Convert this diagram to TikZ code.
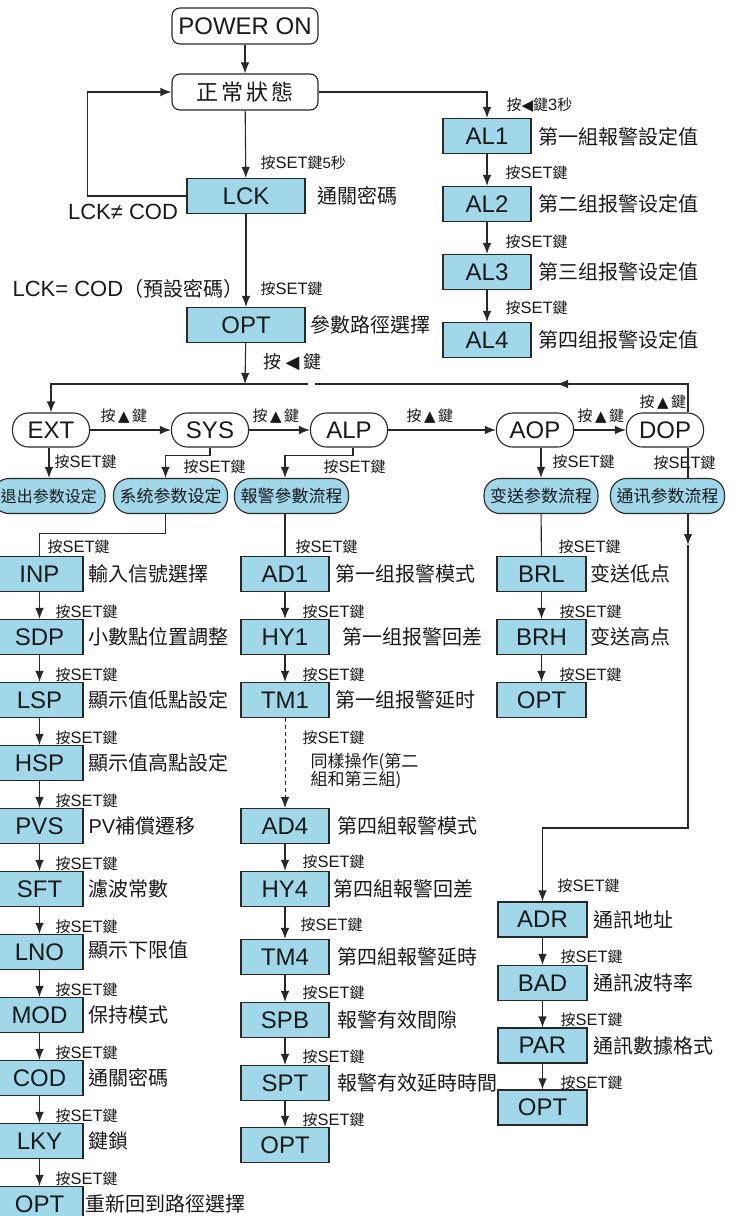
\documentclass[tikz,border=0pt]{standalone}
\usepackage{fontspec}
\setmainfont{Liberation Sans}
\newfontfamily\cjk{Noto Sans CJK TC}
\newfontfamily\sym{DejaVu Sans}
\usetikzlibrary{arrows.meta}
\definecolor{boxb}{RGB}{160,216,234}
\definecolor{linec}{RGB}{40,40,40}
\newcommand{\setk}{按{\rmfamily\fontsize{16.5}{16.5}\selectfont SET}鍵}
\newcommand{\upk}{按\,{\sym ▲}\,鍵}

\begin{document}
\begin{tikzpicture}[x=1pt,y=-1pt,line width=1.1pt,text=black!90,
  con/.style={draw=linec},
  arr/.style={con,-{Latex[length=11pt,width=8.5pt]}},
  top/.style={draw=linec,rounded corners=8pt,minimum width=146pt,minimum height=36pt,inner sep=0pt},
  blk/.style={draw=linec,fill=boxb,minimum width=88pt,minimum height=35pt,inner sep=0pt,font=\fontsize{24}{24}\selectfont},
  wblk/.style={blk,minimum width=118pt},
  rnd/.style={draw=linec,rounded corners=16pt,minimum width=77pt,minimum height=34pt,inner sep=0pt,font=\fontsize{24}{24}\selectfont},
  sub/.style={draw=linec,fill=boxb,rounded corners=16pt,minimum width=114pt,minimum height=35pt,inner sep=0pt,font=\cjk\fontsize{17}{17}\selectfont},
  desc/.style={anchor=west,inner sep=0pt,font=\cjk\fontsize{20}{20}\selectfont},
  key/.style={anchor=west,inner sep=0pt,font=\cjk\fontsize{15}{15}\selectfont}]

\useasboundingbox (0,0) rectangle (736,1216);

% start
\node[top,font=\fontsize{24}{24}\selectfont] (pwr) at (245,26) {POWER ON};
\node[top,font=\cjk\fontsize{22}{22}\selectfont] (norm) at (245,92) {正\hspace{3pt}常\hspace{3pt}狀\hspace{3pt}態};
\node[wblk] (lck) at (246,196) {LCK};
\node[desc] (lckt) at (317,196) {通關密碼};
\node[key] (k0) at (260,163) {\setk{\rmfamily 5}秒};
\node[inner sep=0pt,font=\fontsize{22}{22}\selectfont] (neq) at (123,212) {LCK≠ COD};
\node[anchor=west,inner sep=0pt,font=\fontsize{22}{22}\selectfont] (eq) at (12,289) {LCK= COD{\cjk\fontsize{20}{20}\selectfont （預設密碼）}};
\node[key] (k1) at (260,289) {\setk};
\node[wblk] (opt) at (246,325) {OPT};
\node[desc] (optt) at (310,325) {參數路徑選擇};
\node[key,font=\cjk\fontsize{18}{18}\selectfont] (kopt) at (263,362) {按 {\sym ◀} 鍵};

% alarm values
\node[blk] (al1) at (487,136) {AL1};
\node[blk] (al2) at (487,204) {AL2};
\node[blk] (al3) at (487,272) {AL3};
\node[blk] (al4) at (487,340) {AL4};
\node[desc] (al1t) at (538,137) {第一組報警設定值};
\node[desc] (al2t) at (538,204) {第二组报警设定值};
\node[desc] (al3t) at (538,272) {第三组报警设定值};
\node[desc] (al4t) at (538,340) {第四组报警设定值};
\node[key] (kal) at (506,105) {按{\sym ◀}鍵{\rmfamily\fontsize{16.5}{16.5}\selectfont 3}秒};
\node[key] (kal2) at (505,173) {\setk};
\node[key] (kal3) at (505,242) {\setk};
\node[key] (kal4) at (505,308) {\setk};

% path row
\node[rnd] (ext) at (51,430) {EXT};
\node[rnd] (sys) at (210,430) {SYS};
\node[rnd] (alp) at (349,430) {ALP};
\node[rnd] (aop) at (535,430) {AOP};
\node[rnd] (dop) at (665,430) {DOP};
\node[key] (ku1) at (100,416) {\upk};
\node[key] (ku2) at (252,416) {\upk};
\node[key] (ku3) at (406,416) {\upk};
\node[key] (ku4) at (577,416) {\upk};
\node[key] (ku5) at (639,402) {\upk};

\node[sub,minimum width=112pt,font=\cjk\fontsize{16}{16}\selectfont] (extp) at (49,496) {退出参数设定};
\node[sub] (sysp) at (170.5,496) {系统参数设定};
\node[sub] (alpp) at (291.5,496) {報警參數流程};
\node[sub] (aopp) at (541,496) {变送参数流程};
\node[sub] (dopp) at (667.5,496) {通讯参数流程};
\node[key] (ks1) at (54,462) {\setk};
\node[key] (ks2) at (183,467) {\setk};
\node[key] (ks3) at (323,467) {\setk};
\node[key] (ks4) at (552,462) {\setk};
\node[key] (ks5) at (653,463) {\setk};

% system parameters
\node[blk,minimum width=87pt] (inp) at (39.5,574) {INP};
\node[blk,minimum width=87pt] (sdp) at (39.5,637) {SDP};
\node[blk,minimum width=87pt] (lsp) at (39.5,700) {LSP};
\node[blk,minimum width=87pt] (hsp) at (39.5,763) {HSP};
\node[blk,minimum width=87pt] (pvs) at (39.5,826) {PVS};
\node[blk,minimum width=87pt] (sft) at (39.5,889) {SFT};
\node[blk,minimum width=87pt] (lno) at (39.5,952) {LNO};
\node[blk,minimum width=87pt] (mod) at (39.5,1015) {MOD};
\node[blk,minimum width=87pt] (cod) at (39.5,1078) {COD};
\node[blk,minimum width=87pt] (lky) at (39.5,1141) {LKY};
\node[blk,minimum width=87pt] (opts) at (39.5,1204) {OPT};
\node[desc] (inpt) at (88,574) {輸入信號選擇};
\node[desc] (sdpt) at (88,637) {小數點位置調整};
\node[desc] (lspt) at (88,700) {顯示值低點設定};
\node[desc] (hspt) at (88,763) {顯示值高點設定};
\node[desc] (pvst) at (88,826) {{\rmfamily PV}補償遷移};
\node[desc] (sftt) at (88,889) {濾波常數};
\node[desc] (lnot) at (88,950) {顯示下限值};
\node[desc] (modt) at (88,1015) {保持模式};
\node[desc] (codt) at (88,1078) {通關密碼};
\node[desc] (lkyt) at (88,1141) {鍵鎖};
\node[desc] (optst) at (85,1204) {重新回到路徑選擇};
\node[key] (kp1) at (47,547) {\setk};
\node[key] (kp2) at (55,612) {\setk};
\node[key] (kp3) at (55,675) {\setk};
\node[key] (kp4) at (55,738) {\setk};
\node[key] (kp5) at (55,801) {\setk};
\node[key] (kp6) at (55,864) {\setk};
\node[key] (kp7) at (55,927) {\setk};
\node[key] (kp8) at (55,990) {\setk};
\node[key] (kp9) at (55,1053) {\setk};
\node[key] (kp10) at (55,1116) {\setk};
\node[key] (kp11) at (55,1179) {\setk};

% alarm parameters
\node[blk] (ad1) at (285,574) {AD1};
\node[blk] (hy1) at (285,637) {HY1};
\node[blk] (tm1) at (285,700) {TM1};
\node[blk] (ad4) at (285,826) {AD4};
\node[blk] (hy4) at (285,889) {HY4};
\node[blk] (tm4) at (285,957) {TM4};
\node[blk] (spb) at (285,1020) {SPB};
\node[blk] (spt) at (285,1083) {SPT};
\node[blk] (opta) at (285,1145) {OPT};
\node[desc] (ad1t) at (335,574) {第一组报警模式};
\node[desc] (hy1t) at (342,637) {第一组报警回差};
\node[desc] (tm1t) at (335,700) {第一组报警延时};
\node[desc] (ad4t) at (337,826) {第四組報警模式};
\node[desc] (hy4t) at (333,889) {第四組報警回差};
\node[desc] (tm4t) at (337,957) {第四組報警延時};
\node[desc] (spbt) at (337,1020) {報警有效間隙};
\node[desc] (sptt) at (337,1083) {報警有效延時時間};
\node[anchor=west,inner sep=0pt,align=left,font=\cjk\fontsize{17}{18}\selectfont] (same) at (310,771) {同樣操作(第二\\組和第三組)};
\node[key] (ka1) at (295,547) {\setk};
\node[key] (ka2) at (302,612) {\setk};
\node[key] (ka3) at (302,675) {\setk};
\node[key] (ka4) at (302,738) {\setk};
\node[key] (ka5) at (302,862) {\setk};
\node[key] (ka6) at (300,925) {\setk};
\node[key] (ka7) at (302,993) {\setk};
\node[key] (ka8) at (302,1057) {\setk};
\node[key] (ka9) at (302,1120) {\setk};

% transmit parameters
\node[blk,minimum width=89pt] (brl) at (541.5,574) {BRL};
\node[blk,minimum width=89pt] (brh) at (541.5,637) {BRH};
\node[blk,minimum width=89pt] (optb) at (541.5,700) {OPT};
\node[desc] (brlt) at (590,574) {变送低点};
\node[desc] (brht) at (590,637) {变送高点};
\node[key] (kb1) at (558,547) {\setk};
\node[key] (kb2) at (559,612) {\setk};
\node[key] (kb3) at (559,675) {\setk};

% communication parameters
\node[blk,minimum width=89pt] (adr) at (542.5,919.5) {ADR};
\node[blk,minimum width=89pt] (bad) at (542.5,983) {BAD};
\node[blk,minimum width=89pt] (par) at (542.5,1045.5) {PAR};
\node[blk,minimum width=89pt] (optc) at (542.5,1107.5) {OPT};
\node[desc] (adrt) at (593,920) {通訊地址};
\node[desc] (badt) at (593,983) {通訊波特率};
\node[desc] (part) at (593,1046) {通訊數據格式};
\node[key] (kc1) at (557,886) {\setk};
\node[key] (kc2) at (560,957) {\setk};
\node[key] (kc3) at (560,1020) {\setk};
\node[key] (kc4) at (560,1083) {\setk};

% connectors
\coordinate (jn) at (245,384);
\coordinate (barR) at (308,384);
\coordinate (barL) at (315,384);
\coordinate (dx) at (688,384);
\coordinate (back) at (557,384);
\coordinate (dm) at (688,545);
\coordinate (dc) at (688,828);

\draw[arr] (pwr) -- (norm);
\draw[arr] (norm) -- (lck);
\draw[arr] (lck.west) -| ([xshift=-84]norm.west) -- (norm.west);
\draw[arr] (lck) -- (opt);
\draw[arr] (opt) -- (jn);
\draw[arr] (barR) -| (ext);
\draw[con] (dop.north -| dx) -- (dx) -- (barL);
\draw[arr] (dx) -- (back);

\draw[arr] (norm.east) -| (al1);
\draw[arr] (al1) -- (al2);
\draw[arr] (al2) -- (al3);
\draw[arr] (al3) -- (al4);

\draw[arr] (ext) -- (sys);
\draw[arr] (sys) -- (alp);
\draw[arr] (alp) -- (aop);
\draw[arr] (aop) -- (dop);

\draw[arr] (ext.south -| extp.north) -- (extp.north);
\draw[arr] (sys.south) -- ++(0,8) -| ([xshift=-5]sysp.north);
\draw[arr] ([xshift=4]alp.south) -- ++(0,8) -| (alpp.north -| ad1);
\draw[arr] (aop.south -| aopp) -- (aopp);
\draw[con] (dop.south -| dx) -- (dopp.north -| dx);
\draw[arr] (dopp.south -| dx) -- (dm);
\draw[arr] (dm) -- (dc) -| (adr);

\draw[con] ([xshift=-5]sysp.south) -- ++(0,19) -| (inp);
\draw[arr] (inp) -- (sdp);
\draw[arr] (sdp) -- (lsp);
\draw[arr] (lsp) -- (hsp);
\draw[arr] (hsp) -- (pvs);
\draw[arr] (pvs) -- (sft);
\draw[arr] (sft) -- (lno);
\draw[arr] (lno) -- (mod);
\draw[arr] (mod) -- (cod);
\draw[arr] (cod) -- (lky);
\draw[arr] (lky) -- (opts);

\draw[con] (alpp.south -| ad1) -- (ad1);
\draw[arr] (ad1) -- (hy1);
\draw[arr] (hy1) -- (tm1);
\draw[arr,line width=0.8pt,dash pattern=on 4pt off 3pt] (tm1) -- (ad4);
\draw[arr] (ad4) -- (hy4);
\draw[arr] (hy4) -- (tm4);
\draw[arr] (tm4) -- (spb);
\draw[arr] (spb) -- (spt);
\draw[arr] (spt) -- (opta);

\draw[con] (aopp) -- (brl);
\draw[arr] (brl) -- (brh);
\draw[arr] (brh) -- (optb);

\draw[arr] (adr) -- (bad);
\draw[arr] (bad) -- (par);
\draw[arr] (par) -- (optc);
\end{tikzpicture}
\end{document}
